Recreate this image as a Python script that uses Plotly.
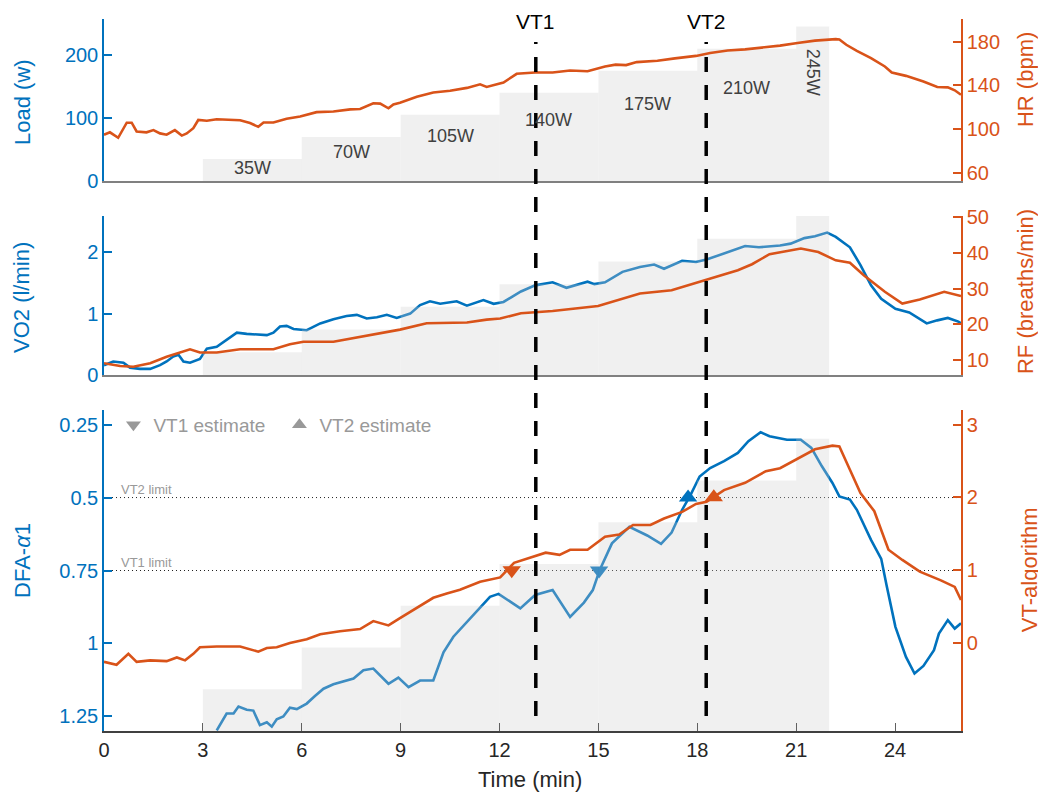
import plotly.graph_objects as go

BLUE = '#0072BD'
ORANGE = '#D95319'
GREY_TXT = '#404040'
FONT = 'Liberation Sans, Arial, sans-serif'

# workload protocol
step_start = [3, 6, 9, 12, 15, 18, 21]
step_end = [6, 9, 12, 15, 18, 21, 22]
step_load = [35, 70, 105, 140, 175, 210, 245]
step_label = ['35W', '70W', '105W', '140W', '175W', '210W', '245W']

# ventilatory thresholds (min)
vt1_time = 13.1
vt2_time = 18.27

# heart rate (bpm)
hr_time = [0, 0.18, 0.43, 0.69, 0.84, 0.99, 1.29, 1.5, 1.7, 1.9, 2.15, 2.36, 2.51, 2.71, 2.86,
           3.12, 3.42, 3.93, 4.13, 4.43, 4.68, 4.84, 5.14, 5.54, 5.95, 6.45, 6.96, 7.47, 7.77,
           8.17, 8.38, 8.63, 8.78, 8.98, 9.49, 9.99, 10.5, 11.01, 11.41, 11.61, 12.12, 12.52,
           13.08, 13.61, 14.14, 14.67, 15.2, 15.52, 15.84, 16.16, 16.79, 17.32, 17.96, 18.39,
           18.92, 19.45, 19.98, 20.51, 21.04, 21.57, 22.2, 22.31, 22.52, 22.84, 23.27, 23.69,
           23.9, 24.33, 24.86, 25.28, 25.6, 25.81, 26.0]
hr_bpm = [94.8, 97, 92, 105.8, 105.8, 97.8, 97, 99, 96, 94.8, 99, 94, 96, 100.8, 108.3,
          107.6, 109, 108, 108, 105.5, 102, 106, 106, 109.5, 111.5, 115.5, 116, 118, 118.4,
          123.6, 123.3, 119, 122.6, 124, 129.5, 133.5, 135, 137.7, 141, 138.6, 142.6, 150.6,
          151.8, 151.8, 153.6, 153, 157.3, 159, 158.6, 161.3, 162.6, 164.7, 167, 169.6,
          172, 173, 174.6, 176.4, 178.8, 181, 182.4, 182, 177.2, 171.6, 165, 157.3,
          151.8, 148.7, 143.6, 138.5, 138.2, 135.5, 131.4]

# oxygen uptake (l/min)
vo2_time = [0, 0.28, 0.59, 0.79, 1.09, 1.4, 1.7, 1.9, 2.1, 2.26, 2.41, 2.61, 2.91, 3.12, 3.42,
            3.62, 3.82, 4.03, 4.33, 4.73, 4.94, 5.14, 5.34, 5.54, 5.75, 6.15, 6.35, 6.56, 6.96,
            7.36, 7.67, 7.97, 8.28, 8.58, 8.88, 9.29, 9.59, 9.89, 10.2, 10.7, 11.01, 11.51,
            11.82, 12.12, 12.34, 12.65, 13.08, 13.61, 14.03, 14.67, 14.88, 15.2, 15.73, 16.26,
            16.69, 16.99, 17.54, 17.96, 18.28, 18.81, 19.45, 19.87, 20.51, 20.83, 21.25, 21.57,
            21.94, 22.2, 22.63, 22.95, 23.27, 23.58, 24.01, 24.43, 24.96, 25.28, 25.6, 25.92, 26.0]
vo2 = [0.16, 0.22, 0.2, 0.12, 0.1, 0.1, 0.16, 0.22, 0.3, 0.33, 0.22, 0.2, 0.26, 0.43, 0.46,
       0.54, 0.62, 0.69, 0.67, 0.66, 0.65, 0.69, 0.79, 0.8, 0.75, 0.73, 0.79, 0.84, 0.91,
       0.96, 0.98, 0.92, 0.94, 0.98, 0.93, 1.0, 1.14, 1.2, 1.16, 1.2, 1.13, 1.22,
       1.16, 1.19, 1.26, 1.36, 1.46, 1.51, 1.42, 1.52, 1.48, 1.51, 1.68, 1.76,
       1.8, 1.73, 1.86, 1.84, 1.88, 1.98, 2.1, 2.08, 2.11, 2.14, 2.23, 2.26,
       2.32, 2.25, 2.08, 1.79, 1.46, 1.24, 1.08, 1.02, 0.84, 0.89, 0.93, 0.87, 0.84]

# respiratory frequency (breaths/min)
rf_time = [0, 0.49, 0.89, 1.4, 1.9, 2.31, 2.61, 2.91, 3.42, 4.13, 5.14, 5.64, 6.05, 6.96, 7.97,
           8.98, 9.79, 11.01, 11.61, 12.02, 12.65, 13.61, 14.99, 16.26, 17.22, 18.28, 19.23,
           19.66, 20.19, 21.14, 21.67, 22.2, 22.63, 23.05, 23.69, 24.22, 24.75, 25.49, 26.0]
rf = [9.1, 8.3, 8.1, 9.1, 10.9, 12.1, 13.0, 12.1, 12.1, 13.0, 13.0, 14.4, 15.1, 15.1, 16.8,
      18.5, 20.3, 20.5, 21.3, 21.6, 23.1, 23.7, 25.1, 28.6, 29.5, 32.5, 35.1,
      36.8, 39.6, 41.2, 40.2, 37.9, 37.2, 33.7, 29.1, 25.8, 26.9, 29.1, 27.9]

# DFA-alpha1
dfa_time = [3.42, 3.72, 3.93, 4.08, 4.33, 4.53, 4.73, 4.94, 5.09, 5.24, 5.44, 5.64, 5.85, 6.15,
            6.4, 6.66, 6.96, 7.26, 7.57, 7.87, 8.17, 8.63, 8.93, 9.24, 9.59, 9.99, 10.3, 10.6,
            11.01, 11.41, 11.71, 11.97, 12.32, 12.63, 13.08, 13.61, 14.14, 14.56, 14.83, 15.04,
            15.41, 15.94, 16.48, 16.9, 17.22, 17.54, 17.8, 18.07, 18.39, 18.81, 19.23, 19.55,
            19.92, 20.19, 20.72, 21.14, 21.46, 21.78, 22.1, 22.31, 22.63, 22.84, 23.27, 23.58,
            23.74, 24.01, 24.33, 24.59, 24.86, 25.18, 25.33, 25.6, 25.81, 26.0]
dfa = [1.298, 1.24, 1.24, 1.216, 1.227, 1.23, 1.28, 1.27, 1.285, 1.26, 1.25, 1.22, 1.225, 1.206,
       1.18, 1.155, 1.14, 1.13, 1.12, 1.092, 1.086, 1.138, 1.117, 1.15, 1.127, 1.127, 1.03, 0.977,
       0.926, 0.88, 0.84, 0.83, 0.855, 0.88, 0.834, 0.817, 0.909, 0.86, 0.817, 0.748,
       0.657, 0.6, 0.63, 0.659, 0.62, 0.542, 0.49, 0.428, 0.399, 0.375, 0.347, 0.307,
       0.276, 0.29, 0.302, 0.302, 0.33, 0.393, 0.45, 0.496, 0.507, 0.542, 0.645, 0.71,
       0.8, 0.943, 1.046, 1.103, 1.077, 1.023, 0.966, 0.92, 0.949, 0.931]

# VT-algorithm output
alg_time = [0, 0.38, 0.74, 0.99, 1.4, 1.9, 2.21, 2.46, 2.71, 2.91, 3.42, 4.13, 4.68, 4.94, 5.24,
            5.64, 6.15, 6.56, 7.16, 7.77, 8.17, 8.63, 8.98, 9.49, 9.99, 10.4, 10.8, 11.41, 12.02,
            12.44, 13.08, 13.4, 13.82, 14.14, 14.67, 15.2, 15.63, 16.05, 16.58, 16.99, 17.54,
            17.96, 18.28, 18.81, 19.45, 20.08, 20.51, 21.14, 21.57, 22.1, 22.31, 22.63, 22.95,
            23.37, 23.8, 24.22, 24.75, 25.39, 25.81, 26.0]
alg = [-0.26, -0.3, -0.15, -0.26, -0.24, -0.25, -0.2, -0.24, -0.15, -0.06, -0.05, -0.05, -0.12,
       -0.07, -0.06, 0.0, 0.05, 0.12, 0.16, 0.19, 0.3, 0.24, 0.34, 0.48, 0.62, 0.68, 0.73, 0.84,
       0.9, 1.1, 1.2, 1.24, 1.21, 1.28, 1.28, 1.46, 1.49, 1.62, 1.62, 1.71, 1.8,
       1.91, 1.94, 2.1, 2.2, 2.36, 2.4, 2.56, 2.66, 2.71, 2.7, 2.38, 2.06,
       1.81, 1.28, 1.14, 0.98, 0.86, 0.77, 0.59]

# threshold estimates (time, value)
dfa_vt1 = (15.02, 0.75)
dfa_vt2 = (17.72, 0.5)
alg_vt1 = (12.37, 1)
alg_vt2 = (18.5, 2)

# the page body adds an 8px margin around the figure
W, H, OFF = 1038, 786, 8


def py(y_ref):
    # paper y from a pixel row of the target page
    return 1 - (y_ref - OFF) / H


bar_x = [(a + b) / 2 for a, b in zip(step_start, step_end)]
bar_w = [b - a for a, b in zip(step_start, step_end)]
bar_color = 'rgba(205,205,205,0.3)'

fig = go.Figure()

# ---- top panel: load + HR
fig.add_trace(go.Bar(x=bar_x, y=step_load, width=bar_w, marker_color=bar_color,
                     marker_line_width=0, xaxis='x', yaxis='y', showlegend=False, hoverinfo='skip'))
fig.add_trace(go.Scatter(x=hr_time, y=hr_bpm, mode='lines', line=dict(color=ORANGE, width=2.6),
                         xaxis='x', yaxis='y2', showlegend=False))

# ---- middle panel: VO2 (below the grey), load, RF
fig.add_trace(go.Scatter(x=vo2_time, y=vo2, mode='lines', line=dict(color=BLUE, width=2.6),
                         xaxis='x2', yaxis='y3', showlegend=False))
fig.add_trace(go.Bar(x=bar_x, y=step_load, width=bar_w, marker_color=bar_color,
                     marker_line_width=0, xaxis='x2', yaxis='y4', showlegend=False, hoverinfo='skip'))
fig.add_trace(go.Scatter(x=rf_time, y=rf, mode='lines', line=dict(color=ORANGE, width=2.6),
                         xaxis='x2', yaxis='y5', showlegend=False))

# ---- bottom panel: DFA-a1, load, VT-algorithm
for lim in [0.5, 0.75]:
    fig.add_trace(go.Scatter(x=[0, 26], y=[lim, lim], mode='lines',
                             line=dict(color='#222', width=1, dash='1px,3px'),
                             xaxis='x3', yaxis='y6', showlegend=False, hoverinfo='skip'))
fig.add_trace(go.Scatter(x=dfa_time, y=dfa, mode='lines', line=dict(color=BLUE, width=2.6),
                         xaxis='x3', yaxis='y6', showlegend=False))
fig.add_trace(go.Scatter(x=[dfa_vt1[0]], y=[dfa_vt1[1]], mode='markers',
                         marker=dict(symbol='triangle-down', size=16, color=BLUE),
                         xaxis='x3', yaxis='y6', showlegend=False))
fig.add_trace(go.Scatter(x=[dfa_vt2[0]], y=[dfa_vt2[1]], mode='markers',
                         marker=dict(symbol='triangle-up', size=16, color=BLUE),
                         xaxis='x3', yaxis='y6', showlegend=False))
fig.add_trace(go.Bar(x=bar_x, y=step_load, width=bar_w, marker_color=bar_color,
                     marker_line_width=0, xaxis='x3', yaxis='y7', showlegend=False, hoverinfo='skip'))
fig.add_trace(go.Scatter(x=alg_time, y=alg, mode='lines', line=dict(color=ORANGE, width=2.6),
                         xaxis='x3', yaxis='y8', showlegend=False))
fig.add_trace(go.Scatter(x=[alg_vt1[0]], y=[alg_vt1[1]], mode='markers',
                         marker=dict(symbol='triangle-down', size=16, color=ORANGE),
                         xaxis='x3', yaxis='y8', showlegend=False))
fig.add_trace(go.Scatter(x=[alg_vt2[0]], y=[alg_vt2[1]], mode='markers',
                         marker=dict(symbol='triangle-up', size=16, color=ORANGE),
                         xaxis='x3', yaxis='y8', showlegend=False))

# legend entries
fig.add_trace(go.Scatter(x=[None], y=[None], mode='markers', name='VT1 estimate',
                         marker=dict(symbol='triangle-down', size=13, color='#999999'),
                         xaxis='x3', yaxis='y6'))
fig.add_trace(go.Scatter(x=[None], y=[None], mode='markers', name='VT2 estimate',
                         marker=dict(symbol='triangle-up', size=13, color='#999999'),
                         xaxis='x3', yaxis='y6'))

tick_font = lambda c: dict(family=FONT, size=20, color=c)


def left_axis(**kw):
    d = dict(side='left', showline=True, linecolor=BLUE, linewidth=1.5, ticks='inside',
             ticklen=8, tickcolor=BLUE, tickwidth=1.5, tickfont=tick_font(BLUE),
             showgrid=False, zeroline=False, automargin=False)
    d.update(kw)
    return d


def right_axis(**kw):
    d = dict(side='right', showline=True, linecolor=ORANGE, linewidth=1.5, ticks='inside',
             ticklen=8, tickcolor=ORANGE, tickwidth=1.5, tickfont=tick_font(ORANGE),
             showgrid=False, zeroline=False, automargin=False)
    d.update(kw)
    return d


top_dom = [py(181), py(19)]
mid_dom = [py(375), py(216)]
bot_dom = [py(731), py(410)]

xbase = dict(range=[0, 26], domain=[0, 1], showgrid=False, zeroline=False, showline=True,
             linecolor='#808080', linewidth=1.5, automargin=False)

fig.update_layout(
    width=W, height=H,
    margin=dict(l=104 - OFF, r=W - (961 - OFF), t=0, b=0, autoexpand=False),
    plot_bgcolor='white', paper_bgcolor='white',
    font=dict(family=FONT),
    xaxis=dict(xbase, anchor='y', showticklabels=False, ticks=''),
    xaxis2=dict(xbase, anchor='y3', matches='x', showticklabels=False, ticks=''),
    xaxis3=dict(xbase, anchor='y6', matches='x', linecolor='#404040', ticks='inside',
                ticklen=8, tickcolor='#606060', tickvals=list(range(0, 25, 3)),
                tickfont=tick_font('#262626')),
    yaxis=left_axis(domain=top_dom, anchor='x', range=[0, 257], tickvals=[0, 100, 200]),
    yaxis2=right_axis(overlaying='y', anchor='x', range=[52.4, 200.8], tickvals=[60, 100, 140, 180]),
    yaxis3=left_axis(domain=mid_dom, anchor='x2', range=[0, 2.59], tickvals=[0, 1, 2]),
    yaxis4=dict(overlaying='y3', anchor='x2', range=[0, 245], visible=False, automargin=False),
    yaxis5=right_axis(overlaying='y3', anchor='x2', range=[5.8, 50.3], tickvals=[10, 20, 30, 40, 50]),
    yaxis6=left_axis(domain=bot_dom, anchor='x3', range=[1.3, 0.2],
                     tickvals=[0.25, 0.5, 0.75, 1, 1.25], ticktext=['0.25', '0.5', '0.75', '1', '1.25']),
    yaxis7=dict(overlaying='y6', anchor='x3', range=[0, 269], visible=False, automargin=False),
    yaxis8=right_axis(overlaying='y6', anchor='x3', range=[-1.21, 3.2], tickvals=[0, 1, 2, 3]),
    showlegend=True,
    legend=dict(orientation='h', x=0.011, xanchor='left', y=py(425), yanchor='middle',
                font=dict(family=FONT, size=19, color='#999999'), bgcolor='rgba(0,0,0,0)',
                entrywidth=121, entrywidthmode='pixels', itemclick=False),
)

# VT lines across all panels
for t, lab in [(vt1_time, 'VT1'), (vt2_time, 'VT2')]:
    fig.add_shape(type='line', xref='x', yref='paper', x0=t, x1=t,
                  y0=py(716), y1=py(42),
                  line=dict(color='black', width=3.5, dash='15px,13px'))
    fig.add_annotation(x=t, xref='x', y=py(22), yref='paper', text=lab, showarrow=False,
                       xanchor='center', yanchor='middle',
                       font=dict(family=FONT, size=21, color='black'))

# load labels
for a, b, w, lab in zip(step_start, step_end, step_load, step_label):
    fig.add_annotation(x=(a + b) / 2, y=0.72 * w - 4, xref='x', yref='y', text=lab,
                       showarrow=False, textangle=90 if b - a < 2 else 0,
                       xanchor='center', yanchor='middle',
                       font=dict(family=FONT, size=18, color=GREY_TXT))

# limit labels
for lim, lab in [(0.5, 'VT2 limit'), (0.75, 'VT1 limit')]:
    fig.add_annotation(x=0.45, y=lim, xref='x3', yref='y6', text=lab, showarrow=False,
                       xanchor='left', yanchor='bottom', yshift=-1,
                       font=dict(family=FONT, size=13, color='#999999'))

# axis titles
titles = [
    ('Load (w)', -0.0957, py(102), BLUE),
    ('VO2 (l/min)', -0.0957, py(297), BLUE),
    ('DFA-<i>α</i>1', -0.0957, py(560), BLUE),
    ('HR (bpm)', 1.0747, py(80), ORANGE),
    ('RF (breaths/min)', 1.0747, py(292), ORANGE),
    ('VT-algorithm', 1.0795, py(570), ORANGE),
]
for txt, x, y, c in titles:
    fig.add_annotation(x=x, y=y, xref='paper', yref='paper', text=txt, showarrow=False,
                       textangle=-90, xanchor='center', yanchor='middle',
                       font=dict(family=FONT, size=22, color=c))

fig.add_annotation(x=0.497, y=py(779), xref='paper', yref='paper', text='Time (min)',
                   showarrow=False, xanchor='center', yanchor='middle',
                   font=dict(family=FONT, size=22, color='#262626'))

fig.write_html("out.html")
